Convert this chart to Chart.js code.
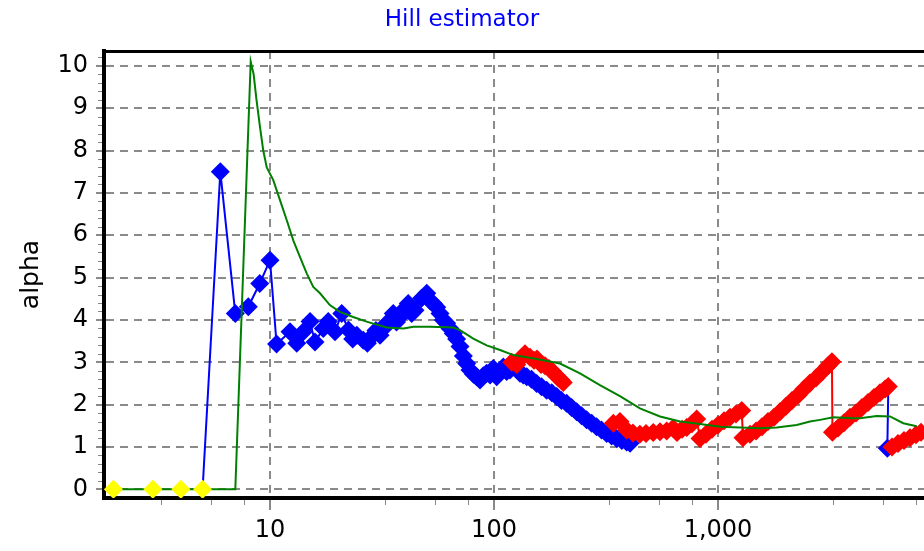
<!DOCTYPE html>
<html><head><meta charset="utf-8">
<script src="https://cdn.jsdelivr.net/npm/chart.js@4.4.1/dist/chart.umd.min.js"></script>
<style>html,body{margin:0;padding:0;background:#fff;}canvas{display:block;}</style>
</head><body>
<canvas id="c" width="924" height="551"></canvas>
<script>
const titleText = 'Hill estimator';
const yAxisTitle = 'alpha';
const xTickValues = [10, 100, 1000];
const xTickLabels = ['10', '100', '1,000'];
const yTickValues = [0, 1, 2, 3, 4, 5, 6, 7, 8, 9, 10];

const yellowX = [2, 3, 4, 5];
const yellowY = [0, 0, 0, 0];

const blueX = [5, 6, 7, 8, 9, 10, 10.7, 12.28, 13.16, 14.08, 15.09, 15.88, 17.3, 18.2, 19.5, 20.9, 22.4, 23.4, 24.4, 26.1, 27.2, 28.4,
  29.7, 31, 32.1, 33.2, 35.5, 36.7, 38, 39.7, 41.4, 42.9, 44.4, 47.5, 50.1, 51.8, 53.6, 55.5, 57.4, 59.4, 61.5, 63.6, 65.8, 68.1, 70.5, 73, 75.5, 78.1, 81, 83.7, 86.6, 89.6, 92.7, 96, 99.3, 102.8,
  106.4, 110, 113.9, 117.9, 124, 130.6, 135, 140, 147, 155, 163, 171.8, 181, 190.5, 200, 211, 222, 234, 246, 259, 273, 287, 302, 318.5, 335, 353, 372, 391, 405];
const blueY = [0, 7.5, 4.15, 4.31, 4.86, 5.41, 3.43, 3.72, 3.45, 3.72, 3.96, 3.48, 3.8, 3.96, 3.72, 4.15, 3.76, 3.55, 3.64, 3.52, 3.45, 3.6,
  3.75, 3.64, 3.8, 3.92, 4.15, 3.95, 4.07, 4.25, 4.39, 4.15, 4.23, 4.51, 4.63, 4.45, 4.39, 4.3, 4.15, 4.0, 3.92, 3.8, 3.68, 3.55, 3.37, 3.15, 2.97, 2.82, 2.72, 2.66, 2.58, 2.68, 2.74, 2.7, 2.85, 2.66,
  2.8, 2.89, 2.78, 2.82, 2.9, 2.74, 2.7, 2.66, 2.6, 2.5, 2.42, 2.34, 2.28, 2.19, 2.1, 2.03, 1.93, 1.83, 1.74, 1.64, 1.56, 1.48, 1.4, 1.32, 1.26, 1.2, 1.15, 1.12, 1.09];

const blueTailX = [5759, 5700];
const blueTailY = [2.43, 0.97];

const redX = [120, 126.3, 132, 137.5, 144.8, 150.8, 155.6, 162.2, 169, 176, 181.5, 187.2, 193.1, 199.1, 203.8,
  270,
  341, 365, 391, 417, 448, 477, 514, 551, 590, 630, 656, 691, 725, 765, 803,
  831, 884, 940, 1000, 1064, 1131, 1203, 1276,
  1293, 1389, 1479, 1572, 1672, 1778, 1891, 2012, 2139, 2275, 2420, 2574, 2738, 2912, 3097, 3226,
  3242, 3433, 3651, 3884, 4131, 4393, 4673, 4970, 5286, 5572, 5759,
  5850,
  5982, 6363, 6767, 7196, 7656, 8059];
const redY = [3.0, 2.95, 3.1, 3.2, 3.12, 3.05, 3.08, 2.95, 2.92, 2.85, 2.8, 2.72, 2.64, 2.58, 2.52,
  null,
  1.56, 1.6, 1.4, 1.33, 1.3, 1.32, 1.34, 1.36, 1.38, 1.44, 1.34, 1.42, 1.46, 1.55, 1.66,
  1.2, 1.3, 1.42, 1.52, 1.62, 1.7, 1.78, 1.86,
  1.22, 1.3, 1.38, 1.48, 1.6, 1.7, 1.83, 1.96, 2.1, 2.22, 2.37, 2.51, 2.63, 2.77, 2.92, 3.01,
  1.35, 1.45, 1.57, 1.7, 1.8, 1.93, 2.05, 2.17, 2.28, 2.37, 2.43,
  null,
  1.0, 1.08, 1.15, 1.22, 1.29, 1.35];

const greenX = [2, 7, 8.2, 8.45, 8.7, 9.02, 9.33, 9.67, 10.34, 11.08, 11.87, 12.7, 13.6, 14.58, 15.6, 16.72, 18.5, 20.5, 23.5, 27,
  29.4, 33.2, 39.4, 43.7, 51.8, 65.8, 70.5, 80.8, 92.7, 106.4, 121.9, 140, 166, 197, 242, 297, 365, 448, 551, 677,
  831, 1021, 1254, 1540, 1828, 2245, 2574, 2853, 3271, 4018, 4304, 5110, 5858, 6714, 7707];
const greenY = [0, 0, 10.1, 9.8, 9.2, 8.56, 8.0, 7.6, 7.3, 6.83, 6.36, 5.88, 5.49, 5.1, 4.78, 4.63, 4.35, 4.19, 4.07, 3.96,
  3.9, 3.82, 3.8, 3.84, 3.84, 3.82, 3.76, 3.56, 3.4, 3.29, 3.17, 3.12, 3.05, 2.97, 2.74, 2.46, 2.2, 1.91, 1.72, 1.6,
  1.54, 1.48, 1.46, 1.44, 1.46, 1.52, 1.6, 1.64, 1.7, 1.68, 1.68, 1.73, 1.72, 1.56, 1.49];

const pts = (xs, ys) => xs.map((x, i) => ({x: x, y: ys[i]}));

const FONT = 'DejaVu Sans';
Chart.defaults.font.family = FONT;
Chart.defaults.color = '#000';

const deco = {
  id: 'deco',
  afterDraw(chart) {
    const {ctx, chartArea: a, scales} = chart;
    const xs = scales.x, ys = scales.y;
    ctx.save();
    ctx.strokeStyle = '#000';
    ctx.lineWidth = 3;
    ctx.beginPath();
    ctx.moveTo(a.left - 2, a.top + 0.5);
    ctx.lineTo(a.right, a.top + 0.5);
    ctx.stroke();
    ctx.strokeStyle = '#888';
    ctx.lineWidth = 1;
    ctx.beginPath();
    for (let i = 0; i <= 51; i++) {
      const v = i * 0.2;
      if (Math.abs(v - Math.round(v)) < 1e-6) continue;
      const py = Math.round(ys.getPixelForValue(v)) + 0.5;
      ctx.moveTo(a.left - 6, py);
      ctx.lineTo(a.left - 2, py);
    }
    [1, 10, 100, 1000].forEach(d => {
      [3.25, 5.45, 7.65].forEach(m => {
        const v = m * d;
        if (v < xs.min || v > xs.max) return;
        const px = Math.round(xs.getPixelForValue(v)) + 0.5;
        ctx.moveTo(px, a.bottom + 2);
        ctx.lineTo(px, a.bottom + 7);
      });
    });
    ctx.stroke();
    ctx.restore();
  }
};

const gridColor = '#8a8a8a';
const MR = 9.5;

new Chart(document.getElementById('c'), {
  type: 'line',
  data: {
    datasets: [
      {
        label: 'k',
        data: pts(yellowX, yellowY),
        showLine: false,
        pointStyle: 'rectRot',
        pointRadius: MR,
        pointBorderWidth: 0,
        backgroundColor: '#ffff00',
        borderColor: '#ffff00',
        order: 0
      },
      {
        label: 'smooth',
        data: pts(greenX, greenY),
        borderColor: '#008000',
        borderWidth: 2,
        pointRadius: 0,
        tension: 0,
        order: 1
      },
      {
        label: 'red',
        data: pts(redX, redY),
        borderColor: '#ff0000',
        backgroundColor: '#ff0000',
        borderWidth: 2,
        pointStyle: 'rectRot',
        pointRadius: MR,
        pointBorderWidth: 0,
        tension: 0,
        spanGaps: false,
        order: 2
      },
      {
        label: 'hill',
        data: pts(blueX, blueY),
        borderColor: '#0000ff',
        backgroundColor: '#0000ff',
        borderWidth: 2,
        pointStyle: 'rectRot',
        pointRadius: ctx => ctx.dataIndex === 0 ? 0 : MR,
        pointBorderWidth: 0,
        tension: 0,
        order: 3
      },
      {
        label: 'hillTail',
        data: pts(blueTailX, blueTailY),
        borderColor: '#0000ff',
        backgroundColor: '#0000ff',
        borderWidth: 2,
        pointStyle: 'rectRot',
        pointRadius: ctx => ctx.dataIndex === 0 ? 0 : MR,
        pointBorderWidth: 0,
        tension: 0,
        order: 3
      }
    ]
  },
  options: {
    responsive: false,
    animation: false,
    events: [],
    layout: {autoPadding: false, padding: {left: 0, right: 0, top: 0, bottom: 0}},
    plugins: {
      legend: {display: false},
      tooltip: {enabled: false},
      title: {
        display: true,
        text: titleText,
        color: '#0000ff',
        font: {family: FONT, size: 23, weight: 'normal', lineHeight: 1.2},
        padding: {top: 6, bottom: 17.4}
      }
    },
    scales: {
      x: {
        type: 'logarithmic',
        min: 1.815,
        max: 8310,
        afterBuildTicks: s => { s.ticks = xTickValues.map(v => ({value: v})); },
        afterFit: s => { s.height = 53; },
        ticks: {
          autoSkip: false,
          maxRotation: 0,
          padding: 6,
          font: {family: FONT, size: 24},
          color: '#000',
          callback: v => { const i = xTickValues.indexOf(v); return i >= 0 ? xTickLabels[i] : ''; }
        },
        grid: {
          color: gridColor,
          lineWidth: 2,
          borderDash: [8, 6],
          tickLength: 12,
          tickColor: gridColor,
          tickWidth: 2,
          tickBorderDash: []
        },
        border: {display: true, color: '#000', width: 4, dash: [8, 6]}
      },
      y: {
        type: 'linear',
        min: -0.205,
        max: 10.35,
        afterBuildTicks: s => { s.ticks = yTickValues.map(v => ({value: v})); },
        afterFit: s => { s.width = 104; },
        ticks: {
          autoSkip: false,
          padding: 8,
          font: {family: FONT, size: 24},
          color: '#000',
          callback: v => String(v)
        },
        grid: {
          color: gridColor,
          lineWidth: 2,
          borderDash: [8, 6],
          tickLength: 8,
          tickColor: gridColor,
          tickWidth: 2,
          tickBorderDash: []
        },
        border: {display: true, color: '#000', width: 4, dash: [8, 6]},
        title: {
          display: true,
          text: yAxisTitle,
          color: '#000',
          font: {family: FONT, size: 25, weight: 'normal', lineHeight: 1.2},
          padding: {top: 16, bottom: 0}
        }
      }
    }
  },
  plugins: [deco]
});
</script>
</body></html>
